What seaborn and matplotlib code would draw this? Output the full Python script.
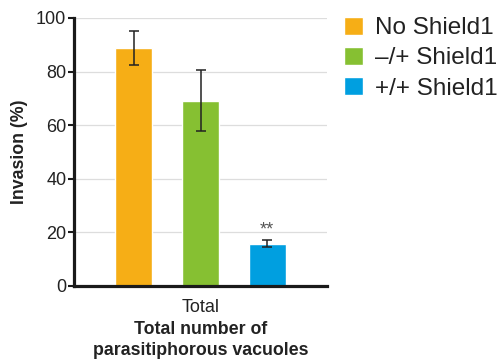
import matplotlib
matplotlib.use("Agg")
import matplotlib.pyplot as plt
import seaborn as sns
import pandas as pd

groups = ["No Shield1", "\u2013/+ Shield1", "+/+ Shield1"]
category = ["Total", "Total", "Total"]
invasion = [88.8, 69.2, 15.8]
err_low = [82.3, 58.0, 14.5]
err_high = [95.3, 80.5, 17.0]
colors = ["#F6AE16", "#86C032", "#009FE0"]
yticks = [0, 20, 40, 60, 80, 100]

sns.set_theme(style="white")
plt.rcParams['font.family'] = ['Liberation Sans', 'DejaVu Sans']

df = pd.DataFrame({"cat": category, "group": groups, "val": invasion})

fig = plt.figure(figsize=(5.01, 3.6), dpi=100)
ax = fig.add_axes([74/501, 1-286/360, (327-74)/501, (286-18)/360])

sns.barplot(data=df, x="cat", y="val", hue="group", hue_order=groups,
            palette=colors, width=0.8, gap=0.45, errorbar=None, ax=ax,
            saturation=1, legend=True)

bars = [p for p in ax.patches if p.get_height() > 0][:3]
bars = sorted(bars, key=lambda p: p.get_x())
for p, lo, hi, v in zip(bars, err_low, err_high, invasion):
    xc = p.get_x() + p.get_width() / 2
    ax.errorbar([xc], [v], yerr=[[v - lo], [hi - v]], fmt="none",
                ecolor="#222222", elinewidth=1.1, capsize=3.8, capthick=1.1, zorder=5)
p3 = bars[2]
ax.text(p3.get_x() + p3.get_width() / 2, err_high[2] + 0.8, "**", ha="center",
        va="bottom", fontsize=13, color="#555555")

ax.set_ylim(0, 100)
ax.set_xlim(-0.505, 0.505)
ax.set_yticks(yticks)
ax.yaxis.grid(True, color="#DDDDDD", linewidth=0.9)
ax.set_axisbelow(True)
for s in ["top", "right"]:
    ax.spines[s].set_visible(False)
for s in ["left", "bottom"]:
    ax.spines[s].set_color("#1a1a1a")
    ax.spines[s].set_linewidth(2.3)
ax.tick_params(axis="y", which="both", left=True, length=4, width=1.5, color="#1a1a1a",
               labelsize=13, labelcolor="#222222", pad=1.5)
ax.tick_params(axis="x", bottom=False, labelsize=13, labelcolor="#222222", pad=3)
ax.set_ylabel("Invasion (%)", fontsize=12.8, fontweight="bold", color="#222222", labelpad=6)
ax.set_xlabel("Total number of\nparasitiphorous vacuoles", fontsize=12.8,
              fontweight="bold", color="#222222", labelpad=4, linespacing=1.3)

leg = ax.legend(loc="upper left", bbox_to_anchor=(334/501, 1-7/360),
                bbox_transform=fig.transFigure, frameon=False, fontsize=17.5,
                handlelength=0.8, handleheight=0.8, handletextpad=0.5,
                labelspacing=0.3, borderaxespad=0)
for t in leg.get_texts():
    t.set_color("#222222")

fig.savefig("out.png", dpi=100)
